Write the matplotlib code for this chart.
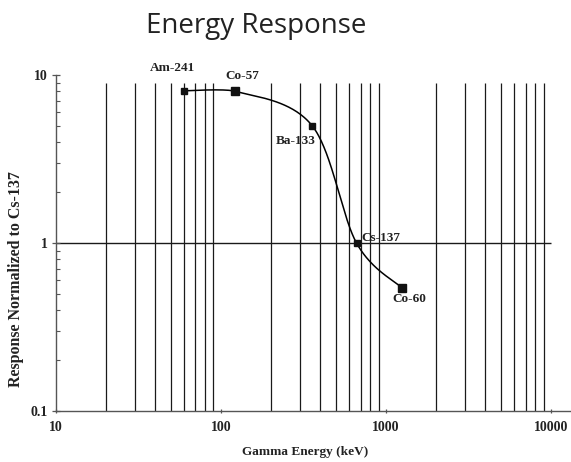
import matplotlib
matplotlib.use('Agg')
import matplotlib.pyplot as plt
from matplotlib.ticker import FixedLocator, FixedFormatter, NullFormatter
import numpy as np

# data
sources = ['Am-241', 'Co-57', 'Ba-133', 'Cs-137', 'Co-60']
energy_kev = [59.5, 122, 356, 662, 1250]
response = [8.05, 8.0, 5.0, 1.0, 0.54]

x_ticks = [10, 100, 1000, 10000]
x_tick_labels = ['10', '100', '1000', '10000']
y_ticks = [0.1, 1, 10]
y_tick_labels = ['0.1', '1', '10']

# label placement (points from the marker)
label_offsets = [(-8, 14), (5, 8.5), (-11.5, -13.5), (3.8, 1.7), (5, -10)]
label_ha = ['center', 'center', 'center', 'left', 'center']
marker_sizes = [4.3, 5.8, 5.0, 4.8, 5.3]

serif = 'Liberation Serif'


def smooth(xs, ys, n=60, k=1 / 6):
    # smoothed line, bezier through the points in log space
    p = np.column_stack([np.log10(xs), np.log10(ys)])
    p = np.vstack([p[0], p, p[-1]])
    t = np.linspace(0, 1, n)[:, None]
    segs = []
    for i in range(1, len(p) - 2):
        p0, p1, p2, p3 = p[i - 1], p[i], p[i + 1], p[i + 2]
        # first segment is kept flatter, like the original
        kk = k * 0.5 if i == 1 else k
        c1 = p1 + (p2 - p0) * kk
        c2 = p2 - (p3 - p1) * kk
        segs.append((1 - t)**3 * p1 + 3 * (1 - t)**2 * t * c1
                    + 3 * (1 - t) * t**2 * c2 + t**3 * p2)
    segs = np.vstack(segs)
    return 10**segs[:, 0], 10**segs[:, 1]


fig = plt.figure(figsize=(5.71, 4.62), dpi=100)
ax = fig.add_axes([56 / 571, 1 - 411 / 462, 1 - 56 / 571, (411 - 75) / 462])
ax.set_xscale('log')
ax.set_yscale('log')
ax.set_xlim(10, 13200)
ax.set_ylim(0.1, 10)

# vertical lines at the minor decades
minor_x = [k * 10**d for d in range(1, 4) for k in range(2, 10)]
ax.vlines(minor_x, 0.1, 9, color='#1a1a1a', lw=0.9, zorder=1)
ax.hlines(1, 10, 10000, color='#1a1a1a', lw=1.0, zorder=1)

sx, sy = smooth(energy_kev, response)
ax.plot(sx, sy, color='black', lw=1.1, zorder=3)
for x, y, s, ms, off, ha in zip(energy_kev, response, sources, marker_sizes,
                                label_offsets, label_ha):
    ax.plot([x], [y], marker='s', ms=ms, color='#111111', zorder=4, ls='none')
    ax.annotate(s, (x, y), xytext=off, textcoords='offset points', ha=ha,
                va='baseline', fontsize=9.5, fontweight='bold', family=serif,
                color='#222222')

for side in ['top', 'right']:
    ax.spines[side].set_visible(False)
for side in ['left', 'bottom']:
    ax.spines[side].set_color('#555555')
    ax.spines[side].set_linewidth(1.0)

ax.xaxis.set_major_locator(FixedLocator(x_ticks))
ax.xaxis.set_major_formatter(FixedFormatter(x_tick_labels))
ax.xaxis.set_minor_formatter(NullFormatter())
ax.yaxis.set_major_locator(FixedLocator(y_ticks))
ax.yaxis.set_major_formatter(FixedFormatter(y_tick_labels))
ax.yaxis.set_minor_formatter(NullFormatter())
ax.tick_params(axis='x', which='major', direction='inout', length=3.5,
               width=0.9, color='#555555', pad=5.5)
ax.tick_params(axis='x', which='minor', length=0)
ax.tick_params(axis='y', which='major', direction='inout', length=6,
               width=0.9, color='#555555', pad=3)
ax.tick_params(axis='y', which='minor', direction='in', length=3,
               width=0.8, color='#555555')
for lab in ax.get_xticklabels() + ax.get_yticklabels():
    lab.set_family(serif)
    lab.set_fontweight('bold')
    lab.set_fontsize(10)
    lab.set_color('#222222')

fig.text(256 / 571, 1 - 33 / 462, 'Energy Response', ha='center',
         va='baseline', fontsize=20, family='Open Sans', color='#222222')
fig.text(305 / 571, 1 - 452 / 462, 'Gamma Energy (keV)', ha='center',
         va='center', fontsize=9.5, fontweight='bold', family=serif,
         color='#222222')
fig.text(16 / 571, 1 - 279 / 462, 'Response Normalized to Cs-137',
         ha='center', va='center', rotation=90, fontsize=11.5,
         fontweight='bold', family=serif, color='#222222')

fig.savefig('out.png', dpi=100)
